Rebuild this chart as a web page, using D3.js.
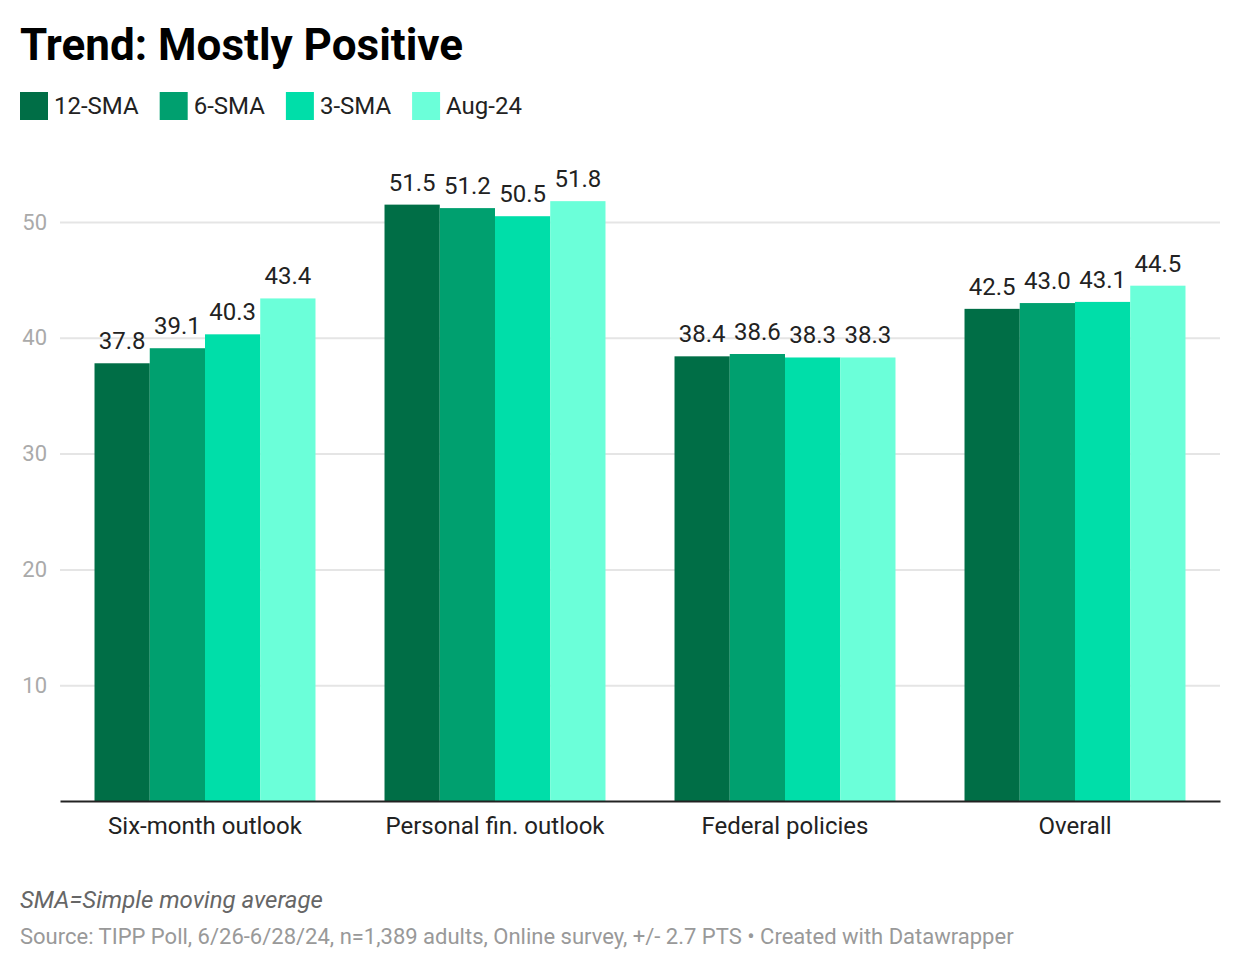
<!DOCTYPE html>
<html>
<head>
<meta charset="utf-8">
<script src="https://cdn.jsdelivr.net/npm/d3@7"></script>
<style>
  body { margin: 0; background: #fff; font-family: Roboto, "Noto Sans", sans-serif; }
  svg text { font-family: Roboto, "Noto Sans", sans-serif; }
</style>
</head>
<body>
<div id="chart"></div>
<script>
// Chart data
const categories = ['Six-month outlook', 'Personal fin. outlook', 'Federal policies', 'Overall'];
const seriesNames = ['12-SMA', '6-SMA', '3-SMA', 'Aug-24'];
const sma12 = [37.8, 51.5, 38.4, 42.5];
const sma6 = [39.1, 51.2, 38.6, 43.0];
const sma3 = [40.3, 50.5, 38.3, 43.1];
const aug24 = [43.4, 51.8, 38.3, 44.5];
const yTicks = [10, 20, 30, 40, 50];
const colors = ['#006e46', '#00a06f', '#00dea9', '#6bffd9'];

const seriesValues = [sma12, sma6, sma3, aug24];

const width = 1240;
const height = 972;
const margin = { top: 222, right: 20, bottom: 171, left: 60 };

const svg = d3.select('#chart')
  .append('svg')
  .attr('width', width)
  .attr('height', height);

// Title
svg.append('text')
  .attr('x', 20)
  .attr('y', 60)
  .attr('font-size', 44)
  .attr('font-weight', 700)
  .attr('fill', '#000')
  .text('Trend: Mostly Positive');

// Legend
const legend = svg.append('g').attr('transform', 'translate(20,92)');
let lx = 0;
seriesNames.forEach((name, i) => {
  const g = legend.append('g').attr('transform', `translate(${lx},0)`);
  g.append('rect')
    .attr('width', 28)
    .attr('height', 28)
    .attr('fill', colors[i]);
  const t = g.append('text')
    .attr('x', 34)
    .attr('y', 14)
    .attr('dy', '0.35em')
    .attr('font-size', 24)
    .attr('fill', '#222')
    .text(name);
  lx += 34 + t.node().getComputedTextLength() + 21;
});

// Scales
const x = d3.scaleBand()
  .domain(categories)
  .range([margin.left, width - margin.right])
  .paddingInner(0.238)
  .paddingOuter(0.119);

const xInner = d3.scaleBand()
  .domain(seriesNames)
  .range([0, x.bandwidth()]);

const y = d3.scaleLinear()
  .domain([0, 50])
  .range([height - margin.bottom, margin.top]);

// Gridlines and y labels
const yAxis = svg.append('g')
  .attr('transform', `translate(${margin.left},0)`)
  .call(d3.axisLeft(y)
    .tickValues(yTicks)
    .tickSize(-(width - margin.left - margin.right))
    .tickPadding(13));
yAxis.select('.domain').remove();
yAxis.selectAll('.tick line')
  .attr('stroke', '#e5e5e5')
  .attr('stroke-width', 2);
yAxis.selectAll('.tick text')
  .attr('font-size', 22)
  .attr('fill', '#aaa');

// Bars
const groups = svg.append('g')
  .selectAll('g')
  .data(categories)
  .join('g')
  .attr('transform', d => `translate(${x(d)},0)`);

groups.selectAll('rect')
  .data((d, ci) => seriesNames.map((s, si) => ({ s, si, v: seriesValues[si][ci] })))
  .join('rect')
  .attr('x', d => xInner(d.s))
  .attr('y', d => y(d.v))
  .attr('width', xInner.bandwidth())
  .attr('height', d => y(0) - y(d.v))
  .attr('fill', d => colors[d.si]);

// Value labels
groups.selectAll('text.value')
  .data((d, ci) => seriesNames.map((s, si) => ({ s, si, v: seriesValues[si][ci] })))
  .join('text')
  .attr('class', 'value')
  .attr('x', d => xInner(d.s) + xInner.bandwidth() / 2)
  .attr('y', d => y(d.v) - 14)
  .attr('text-anchor', 'middle')
  .attr('font-size', 24)
  .attr('fill', '#222')
  .text(d => d.v.toFixed(1));

// Baseline and category labels
const xAxis = svg.append('g')
  .attr('transform', `translate(0,${y(0)})`)
  .call(d3.axisBottom(x).tickSize(0).tickPadding(16));
xAxis.select('.domain')
  .attr('stroke', '#222')
  .attr('stroke-width', 2);
xAxis.selectAll('.tick text')
  .attr('font-size', 24)
  .attr('fill', '#222');

// Notes
svg.append('text')
  .attr('x', 20)
  .attr('y', 908)
  .attr('font-size', 24)
  .attr('font-style', 'italic')
  .attr('fill', '#666')
  .text('SMA=Simple moving average');

svg.append('text')
  .attr('x', 20)
  .attr('y', 944)
  .attr('font-size', 22)
  .attr('fill', '#999')
  .text('Source: TIPP Poll, 6/26-6/28/24, n=1,389 adults, Online survey, +/- 2.7 PTS • Created with Datawrapper');
</script>
</body>
</html>
